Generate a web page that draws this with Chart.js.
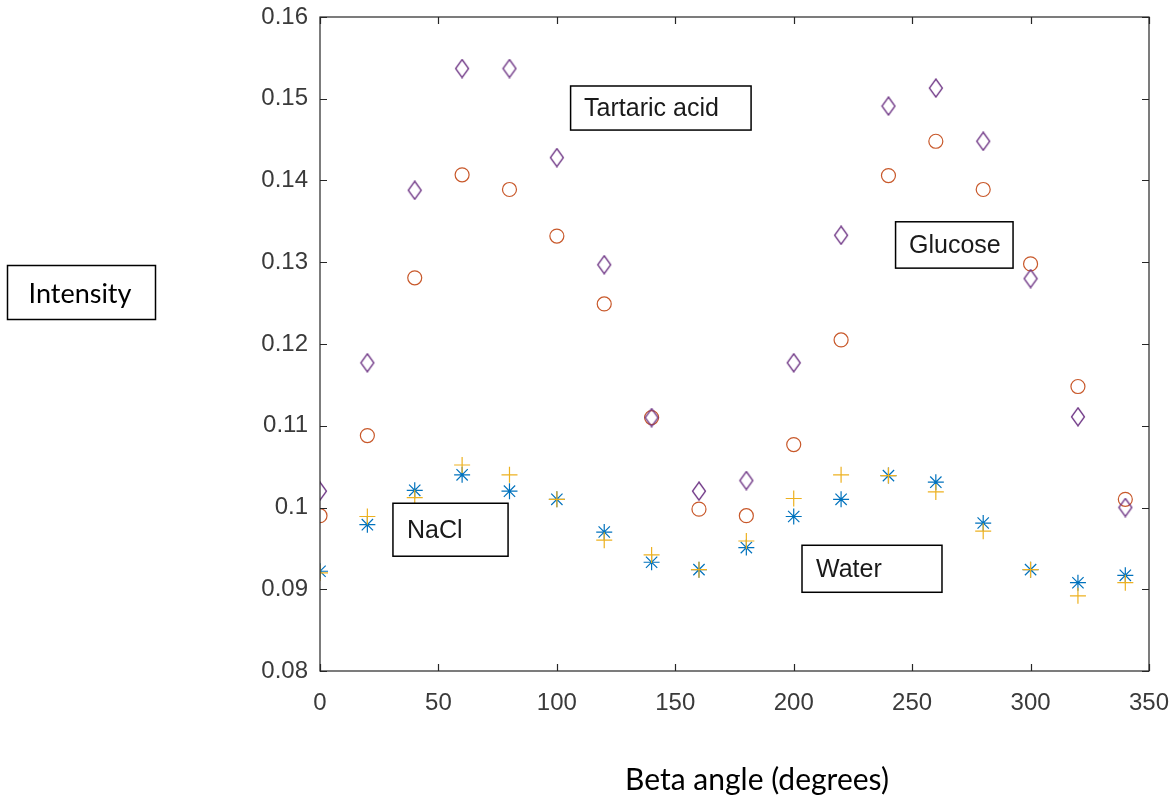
<!DOCTYPE html>
<html>
<head>
<meta charset="utf-8">
<script src="https://cdn.jsdelivr.net/npm/chart.js@4"></script>
<style>
  html, body { margin: 0; padding: 0; background: #fff; }
  #wrap { width: 1173px; height: 801px; }
</style>
</head>
<body>
<div id="wrap"><canvas id="chart" width="1173" height="801"></canvas></div>
<script>
// beta angle in degrees
const angles = [0, 20, 40, 60, 80, 100, 120, 140, 160, 180, 200, 220, 240, 260, 280, 300, 320, 340];

// intensity series
const asteriskVals = [0.0922, 0.0979, 0.1021, 0.104, 0.102, 0.101, 0.097, 0.0933, 0.0924, 0.0951, 0.0989, 0.101, 0.1039, 0.1031, 0.0981, 0.0924, 0.0908, 0.0917];
const circleVals   = [0.099, 0.1088, 0.1281, 0.1407, 0.1389, 0.1332, 0.1249, 0.111, 0.0998, 0.099, 0.1077, 0.1205, 0.1406, 0.1448, 0.1389, 0.1298, 0.1148, 0.101];
const plusVals     = [0.092, 0.0989, 0.1012, 0.1052, 0.104, 0.101, 0.096, 0.0942, 0.0924, 0.0959, 0.1011, 0.104, 0.1039, 0.1019, 0.0971, 0.0924, 0.0892, 0.0908];
const diamondVals  = [0.102, 0.1177, 0.1388, 0.1537, 0.1537, 0.1428, 0.1297, 0.111, 0.102, 0.1033, 0.1177, 0.1333, 0.1491, 0.1513, 0.1448, 0.128, 0.1111, 0.1];

const xTicks = [0, 50, 100, 150, 200, 250, 300, 350];
const yTicks = [0.08, 0.09, 0.1, 0.11, 0.12, 0.13, 0.14, 0.15, 0.16];

// text boxes inside the axes (data coords)
const notes = [
  { text: 'Tartaric acid', x0: 105.8, x1: 182, y0: 0.15156, y1: 0.14617, tx: 111.5 },
  { text: 'Glucose', x0: 243, x1: 292.6, y0: 0.13495, y1: 0.12928, tx: 248.7 },
  { text: 'NaCl', x0: 30.8, x1: 79.4, y0: 0.10052, y1: 0.09404, tx: 36.7 },
  { text: 'Water', x0: 203.5, x1: 262.6, y0: 0.09538, y1: 0.08963, tx: 209.4 }
];

function pts(vals) {
  return angles.map((a, i) => ({ x: a, y: vals[i] }));
}

// matlab style diamond, taller than wide
function diamond(color) {
  const c = document.createElement('canvas');
  c.width = 16; c.height = 20;
  const g = c.getContext('2d');
  g.strokeStyle = color;
  g.lineWidth = 1.3;
  g.beginPath();
  g.moveTo(8, 1);
  g.lineTo(14.5, 10);
  g.lineTo(8, 19);
  g.lineTo(1.5, 10);
  g.closePath();
  g.stroke();
  return c;
}

const axisColor = '#262626';
const tickFont = { family: '"Liberation Sans", Arial, sans-serif', size: 24 };

const boxPlugin = {
  id: 'box',
  afterDraw(chart) {
    const { ctx, chartArea: a, scales } = chart;
    ctx.save();
    ctx.strokeStyle = axisColor;
    ctx.lineWidth = 1.2;
    ctx.strokeRect(a.left, a.top, a.right - a.left, a.bottom - a.top);
    // inward ticks on all four sides
    ctx.beginPath();
    xTicks.forEach(v => {
      const px = Math.round(scales.x.getPixelForValue(v)) + 0.5;
      ctx.moveTo(px, a.bottom); ctx.lineTo(px, a.bottom - 7);
      ctx.moveTo(px, a.top); ctx.lineTo(px, a.top + 7);
    });
    yTicks.forEach(v => {
      const py = Math.round(scales.y.getPixelForValue(v)) + 0.5;
      ctx.moveTo(a.left, py); ctx.lineTo(a.left + 7, py);
      ctx.moveTo(a.right, py); ctx.lineTo(a.right - 7, py);
    });
    ctx.stroke();

    // annotation boxes
    ctx.font = '25px "Liberation Sans", Arial, sans-serif';
    ctx.textBaseline = 'middle';
    ctx.textAlign = 'left';
    notes.forEach(n => {
      const l = scales.x.getPixelForValue(n.x0), r = scales.x.getPixelForValue(n.x1);
      const t = scales.y.getPixelForValue(n.y0), b = scales.y.getPixelForValue(n.y1);
      ctx.fillStyle = '#fff';
      ctx.fillRect(l, t, r - l, b - t);
      ctx.strokeStyle = '#000';
      ctx.lineWidth = 1.5;
      ctx.strokeRect(l, t, r - l, b - t);
      ctx.fillStyle = '#1a1a1a';
      ctx.fillText(n.text, scales.x.getPixelForValue(n.tx), (t + b) / 2 + 1);
    });

    // outside labels
    ctx.fillStyle = '#000';
    ctx.strokeStyle = '#000';
    ctx.lineWidth = 1.5;
    ctx.strokeRect(7.5, 265.5, 148, 54);
    ctx.textAlign = 'center';
    ctx.font = '27px Lato, "Open Sans", sans-serif';
    ctx.fillText('Intensity', 80, 294);
    ctx.font = '30px Lato, "Open Sans", sans-serif';
    ctx.fillText('Beta angle (degrees)', 757, 780);
    ctx.restore();
  }
};

const ctx = document.getElementById('chart').getContext('2d');
new Chart(ctx, {
  type: 'scatter',
  data: {
    datasets: [
      { label: 'Water', data: pts(asteriskVals), pointStyle: 'star', radius: 8, borderColor: '#0072BD', borderWidth: 1.2, backgroundColor: 'transparent', order: 3 },
      { label: 'Glucose', data: pts(circleVals), pointStyle: 'circle', radius: 7, borderColor: '#C8582A', borderWidth: 1.2, backgroundColor: 'transparent', order: 2 },
      { label: 'NaCl', data: pts(plusVals), pointStyle: 'cross', radius: 8, borderColor: '#EDB120', borderWidth: 1.2, backgroundColor: 'transparent', order: 1 },
      { label: 'Tartaric acid', data: pts(diamondVals), pointStyle: diamond('#6E3585'), radius: 8, borderColor: '#6E3585', backgroundColor: 'transparent', order: 0 }
    ]
  },
  options: {
    responsive: false,
    animation: false,
    events: [],
    layout: { padding: { top: 17, right: 24, left: 0, bottom: 0 } },
    plugins: { legend: { display: false }, tooltip: { enabled: false } },
    scales: {
      x: {
        type: 'linear', min: 0, max: 350,
        afterBuildTicks: s => { s.ticks = xTicks.map(v => ({ value: v })); },
        afterFit: s => { s.height = 130; s.paddingLeft = 0; s.paddingRight = 0; },
        grid: { display: false },
        border: { display: false },
        ticks: { color: '#3a3a3a', padding: 10, maxRotation: 0, font: tickFont }
      },
      y: {
        type: 'linear', min: 0.08, max: 0.16,
        afterBuildTicks: s => { s.ticks = yTicks.map(v => ({ value: v })); },
        afterFit: s => { s.width = 320; s.paddingTop = 0; s.paddingBottom = 0; },
        grid: { display: false },
        border: { display: false },
        ticks: {
          color: '#3a3a3a', padding: 4,
          font: tickFont,
          callback: v => String(Number(v.toFixed(2)))
        }
      }
    }
  },
  plugins: [boxPlugin]
});
</script>
</body>
</html>
